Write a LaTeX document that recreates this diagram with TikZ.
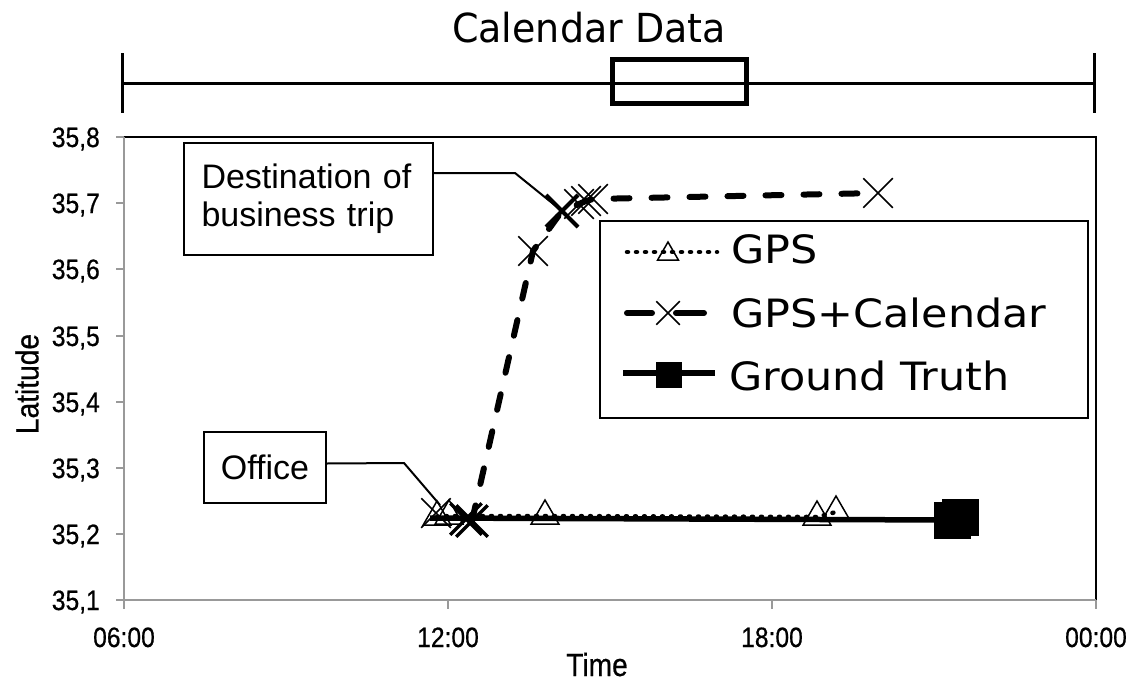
\documentclass[tikz,border=0pt]{standalone}
\usepackage{fontspec}
\setmainfont{Liberation Sans}
\newfontfamily\dejavu{DejaVu Sans}
\newfontfamily\dejavuwide[FakeStretch=1.1]{DejaVu Sans}
\newfontfamily\dejavunarrow[FakeStretch=0.95]{DejaVu Sans}
\newfontfamily\axisfont[FakeStretch=0.88,FakeBold=0.6]{Liberation Sans}

\usetikzlibrary{shapes.geometric,shapes.misc}

\begin{document}
\begin{tikzpicture}[x=1pt, y=-1pt, every node/.style={inner sep=0pt},
    tick/.style={font=\axisfont\fontsize{28}{32}\selectfont},
    note/.style={draw, line width=1.5pt, align=left, font=\fontsize{34}{38}\selectfont},
    leg/.style={anchor=base west, font=\dejavuwide\fontsize{39}{44}\selectfont},
    tri/.style={draw, regular polygon, regular polygon sides=3, minimum size=32pt, line width=1.5pt},
    xmark/.style={draw, cross out, minimum size=28pt, line width=1.5pt},
    sq/.style={draw, fill=black, minimum size=36pt},
    gps/.style={line width=4.5pt, line cap=round, dash pattern=on 1pt off 8pt},
    calline/.style={line width=6pt, line cap=round, dash pattern=on 16pt off 22pt},
    truth/.style={line width=5.5pt}]
\useasboundingbox (0,0) rectangle (1136,683);

% calendar bar
\node[font=\dejavunarrow\fontsize{40}{44}\selectfont] (caltitle) at (589,28) {Calendar Data};
\draw[line width=3pt] (122,53) -- (122,113) (122,83) -- (1094,83) (1094,53) -- (1094,113);
\draw[line width=5pt] (612,59) rectangle (746,103);

% axes
\draw[line width=1.5pt] (124,137) -- (1096,137) -- (1096,600);
\draw[black!40, line width=2pt] (124,137) -- (124,600) -- (1096,600);
\draw[black!40, line width=2pt] (116,137) -- (124,137) (116,203) -- (124,203) (116,269) -- (124,269)
    (116,336) -- (124,336) (116,402) -- (124,402) (116,468) -- (124,468) (116,534) -- (124,534)
    (116,600) -- (124,600);
\draw[black!40, line width=2pt] (124,600) -- (124,609) (448,600) -- (448,609) (772,600) -- (772,609)
    (1096,600) -- (1096,609);
\node[tick, anchor=base east] (y8) at (100,147) {35,8};
\node[tick, anchor=base east] (y7) at (100,213) {35,7};
\node[tick, anchor=base east] (y6) at (100,279) {35,6};
\node[tick, anchor=base east] (y5) at (100,346) {35,5};
\node[tick, anchor=base east] (y4) at (100,412) {35,4};
\node[tick, anchor=base east] (y3) at (100,478) {35,3};
\node[tick, anchor=base east] (y2) at (100,544) {35,2};
\node[tick, anchor=base east] (y1) at (100,610) {35,1};
\node[tick, anchor=base] (x1) at (124,647) {06:00};
\node[tick, anchor=base] (x2) at (448,647) {12:00};
\node[tick, anchor=base] (x3) at (772,647) {18:00};
\node[tick, anchor=base] (x4) at (1096,647) {00:00};
\node[font=\axisfont\fontsize{32}{36}\selectfont, anchor=base] (timelbl) at (597,676) {Time};
\node[font=\axisfont\fontsize{32}{36}\selectfont, rotate=90] (latlbl) at (27,384) {Latitude};

% data points
\coordinate (g1) at (437,517);
\coordinate (g2) at (449,516);
\coordinate (g3) at (545,516);
\coordinate (g4) at (817,517);
\coordinate (g5) at (836,512);
\coordinate (c1) at (436,513);
\coordinate (c2) at (466,519);
\coordinate (c3) at (472,521);
\coordinate (c4) at (533,251);
\coordinate (c5) at (562,211);
\coordinate (c6) at (579,204);
\coordinate (c7) at (586,201);
\coordinate (c8) at (593,199);
\coordinate (c9) at (878,193);
\coordinate (t1) at (430,518);
\coordinate (t2) at (952,520);
\coordinate (t3) at (960,517);

% GPS
\draw[gps] (g1) -- (g2) -- (g3) -- (g4) -- (g5);
\node[tri] (mg1) at (g1) {};
\node[tri] (mg2) at (g2) {};
\node[tri] (mg3) at (g3) {};
\node[tri] (mg4) at (g4) {};
\node[tri] (mg5) at (g5) {};

% GPS+Calendar
\draw[calline] (c3) -- (c4) -- (c5) -- (c6) -- (c7) -- (c8) -- (c9);
\node[xmark] (mc1) at (c1) {};
\node[xmark, line width=3.5pt] (mc2) at (c2) {};
\node[xmark, line width=3.5pt] (mc3) at (c3) {};
\node[xmark] (mc4) at (c4) {};
\node[xmark, line width=4pt] (mc5) at (c5) {};
\node[xmark] (mc6) at (c6) {};
\node[xmark] (mc7) at (c7) {};
\node[xmark] (mc8) at (c8) {};
\node[xmark] (mc9) at (c9) {};

% ground truth
\draw[truth] (t1) -- (t2) -- (t3);
\node[sq] (mt2) at (t2) {};
\node[sq] (mt3) at (t3) {};

% callouts
\node[note, minimum width=249pt, minimum height=112pt, text width=214pt] (dest) at (308.5,199) {Destination of\\business trip};
\node[note, minimum width=122pt, minimum height=71pt] (office) at (265,467.5) {Office};
\coordinate (k1) at (515,173);
\coordinate (k2) at (404,463);
\coordinate (k3) at (440,505);
\draw[line width=2pt] ([yshift=26pt]dest.east) -- (k1) -- (c5);
\draw[line width=2pt] ([yshift=4pt]office.east) -- (k2) -- (k3);

% legend
\node[draw, line width=1.5pt, minimum width=488pt, minimum height=197pt] (legend) at (844,319.5) {};
\coordinate (l1a) at (627,252);
\coordinate (l1b) at (717,252);
\coordinate (l2a) at (627,313);
\coordinate (l2b) at (652,313);
\coordinate (l2c) at (676,313);
\coordinate (l2d) at (704,313);
\coordinate (l3a) at (623,373);
\coordinate (l3b) at (715,373);
\draw[gps] (l1a) -- (l1b);
\node[tri, minimum size=24pt] (lg1) at (668,254) {};
\draw[line width=6pt, line cap=round] (l2a) -- (l2b) (l2c) -- (l2d);
\node[xmark, minimum size=22pt] (lg2) at (668,313) {};
\draw[truth] (l3a) -- (l3b);
\node[sq, minimum size=25pt] (lg3) at (669,375) {};
\node[leg] (lt1) at (731,263) {GPS};
\node[leg] (lt2) at (731,327) {GPS+Calendar};
\node[leg] (lt3) at (729,390) {Ground Truth};
\end{tikzpicture}
\end{document}
